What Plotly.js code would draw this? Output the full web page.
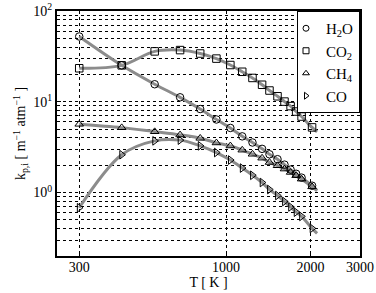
<!DOCTYPE html>
<html>
<head>
<meta charset="utf-8">
<script src="https://cdn.plot.ly/plotly-3.0.1.min.js"></script>
<style>html,body{margin:0;padding:0;background:#fff}#chart{width:376px;height:293px}</style>
</head>
<body>
<div id="chart"></div>
<script>
// Temperatures [K]
var T = [300, 425, 557, 686, 809, 924, 1036, 1142, 1242, 1344, 1428, 1525, 1615, 1698, 1777, 1858, 2025];
// Planck-mean absorption coefficients [m^-1 atm^-1]
var H2O = [52.4, 25.2, 15.6, 11.2, 8.32, 6.38, 5.15, 4.16, 3.56, 3.03, 2.64, 2.33, 2.03, 1.79, 1.61, 1.46, 1.19];
var CO2 = [23.4, 25.2, 35.9, 37.1, 34.0, 29.9, 25.4, 21.4, 18.3, 15.4, 13.3, 11.5, 10.05, 8.96, 7.81, 6.88, 5.22];
var CH4 = [5.66, 5.19, 4.69, 4.32, 3.97, 3.53, 3.27, 2.94, 2.65, 2.40, 2.15, 1.98, 1.82, 1.67, 1.54, 1.41, 1.16];
var CO  = [0.68, 2.61, 3.71, 3.78, 3.27, 2.76, 2.28, 1.86, 1.55, 1.29, 1.08, 0.927, 0.797, 0.694, 0.608, 0.546, 0.403];
// Fit curve end (curves extend slightly beyond the last point)
var fitEndT = 2110;
var fitEnd = {H2O: 1.05, CO2: 4.65, CH4: 1.05, CO: 0.355};
// Legend labels
var names = {H2O: 'H<sub>2</sub>O', CO2: 'CO<sub>2</sub>', CH4: 'CH<sub>4</sub>', CO: 'CO'};
var symbols = {H2O: 'circle-open', CO2: 'square-open', CH4: 'triangle-up-open', CO: 'triangle-right-open'};
// Axis ticks
var xTicks = [300, 1000, 2000, 3000];
var xTickText = ['300', '1000', '2000', '3000'];
var yTicks = [1, 10, 100];
var yTickText = ['10<sup>0</sup>', '10<sup>1</sup>', '10<sup>2</sup>'];
var yMinor = [0.2,0.3,0.4,0.5,0.6,0.7,0.8,0.9,2,3,4,5,6,7,8,9,20,30,40,50,60,70,80,90];

var series = {H2O: H2O, CO2: CO2, CH4: CH4, CO: CO};
var keys = ['H2O', 'CO2', 'CH4', 'CO'];
var traces = [];
keys.forEach(function (k) {
  traces.push({
    x: T.concat([fitEndT]), y: series[k].concat([fitEnd[k]]),
    mode: 'lines', line: {color: '#8c8c8c', width: 3, shape: 'spline', smoothing: 1},
    showlegend: false, hoverinfo: 'skip'
  });
});
keys.forEach(function (k) {
  traces.push({
    x: T, y: series[k], mode: 'markers', showlegend: false,
    marker: {symbol: symbols[k], size: 7.5, color: '#000', line: {color: '#000', width: 1}}
  });
});
keys.forEach(function (k) {
  traces.push({
    x: [null], y: [null], mode: 'markers', name: names[k],
    marker: {symbol: symbols[k], size: 6, color: '#000', line: {color: '#000', width: 1}}
  });
});

var font = {family: 'Liberation Serif, Times New Roman, serif', color: '#000', size: 14};
var layout = {
  width: 376, height: 293,
  margin: {l: 57, r: 16, t: 11, b: 37},
  paper_bgcolor: '#fff', plot_bgcolor: '#fff',
  font: font,
  showlegend: true,
  legend: {x: 1, xanchor: 'right', y: 1, yanchor: 'top', bgcolor: '#fff',
           bordercolor: '#000', borderwidth: 1, font: {family: font.family, size: 15, color: '#000'},
           tracegroupgap: 0, itemwidth: 30, indentation: -12},
  xaxis: {
    type: 'log', range: [Math.log10(250), Math.log10(3000)],
    tickmode: 'array', tickvals: xTicks, ticktext: xTickText,
    showgrid: true, gridcolor: '#000', griddash: 'dot', gridwidth: 1,
    showline: true, mirror: true, linecolor: '#000', linewidth: 2,
    ticks: 'inside', ticklen: 4, tickcolor: '#000', zeroline: false,
    ticklabelstandoff: -3,
    title: {text: 'T [ K ]', font: {family: font.family, size: 14, color: '#000'}, standoff: 0}
  },
  yaxis: {
    type: 'log', range: [Math.log10(0.2), 2],
    tickmode: 'array', tickvals: yTicks, ticktext: yTickText,
    showgrid: true, gridcolor: '#000', griddash: 'dot', gridwidth: 1,
    minor: {tickmode: 'array', tickvals: yMinor, showgrid: true, gridcolor: '#000', griddash: 'dot', gridwidth: 1,
            ticks: 'inside', ticklen: 2, tickcolor: '#000'},
    showline: true, mirror: true, linecolor: '#000', linewidth: 2,
    ticks: 'inside', ticklen: 4, tickcolor: '#000', zeroline: false,
    title: {text: 'k<sub>p,i</sub> [ m<sup>\u22121</sup> atm<sup>\u22121</sup> ]', font: {family: font.family, size: 14, color: '#000'}, standoff: 4}
  }
};
Plotly.newPlot('chart', traces, layout, {staticPlot: true, displayModeBar: false});
</script>
</body>
</html>
